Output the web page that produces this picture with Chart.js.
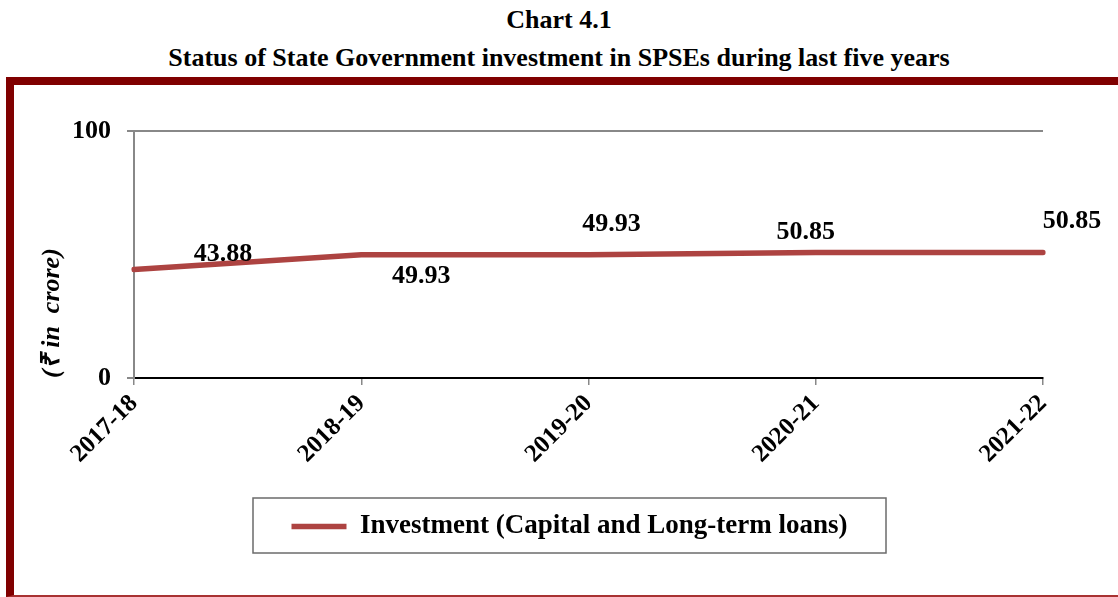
<!DOCTYPE html>
<html>
<head>
<meta charset="utf-8">
<script src="https://cdn.jsdelivr.net/npm/chart.js@4.4.0/dist/chart.umd.min.js"></script>
<style>
  html, body { margin: 0; padding: 0; background: #fff; overflow: hidden; }
  body { width: 1118px; height: 597px; position: relative; font-family: "Liberation Serif", "Times New Roman", serif; }
  .title { position: absolute; left: 0; width: 1118px; text-align: center; font-weight: bold; font-size: 26px; line-height: 30px; color: #000; }
  #t1 { top: 5px; }
  #t2 { top: 43px; }
  #frame { position: absolute; left: 6px; top: 77px; width: 1200px; height: 520px; box-sizing: border-box;
           border-left: 8px solid #800000; border-top: 8px solid #800000; border-bottom: 2px solid #a83232; }
  #wrap { position: absolute; left: 14px; top: 85px; width: 1104px; height: 510px; }
</style>
</head>
<body>
<div class="title" id="t1">Chart 4.1</div>
<div class="title" id="t2">Status of State Government investment in SPSEs during last five years</div>
<div id="frame"></div>
<div id="wrap"><canvas id="investChart" width="1104" height="510"></canvas></div>
<script>
const years = ['2017-18', '2018-19', '2019-20', '2020-21', '2021-22'];
const investment = [43.88, 49.93, 49.93, 50.85, 50.85];
const yTicks = [0, 100];
const seriesLabel = 'Investment (Capital and Long-term loans)';
const axisTitle = '(\u20B9 in  crore)';

// where each value label sits relative to its point (px)
const labelShift = [[89, -15], [60, 22], [23, -30], [-10, -20], [29, -31]];

const serif = '"Liberation Serif", "Times New Roman", serif';
const lineColor = '#ad4341';

const valueLabels = {
  id: 'valueLabels',
  afterDatasetsDraw(chart) {
    const ctx = chart.ctx;
    const meta = chart.getDatasetMeta(0);
    ctx.save();
    ctx.font = 'bold 26px ' + serif;
    ctx.fillStyle = '#000';
    ctx.textAlign = 'center';
    ctx.textBaseline = 'middle';
    meta.data.forEach((pt, i) => {
      const s = labelShift[i];
      ctx.fillText(investment[i].toFixed(2), pt.x + s[0], pt.y + s[1]);
    });
    ctx.restore();
  }
};

const legendBox = {
  id: 'legendBox',
  afterLayout(chart) {
    const lg = chart.legend;
    lg.left = 239;
    lg.right = 872;
  },
  afterDraw(chart) {
    const lg = chart.legend;
    const ctx = chart.ctx;
    ctx.save();
    ctx.strokeStyle = '#6b6b6b';
    ctx.lineWidth = 1.5;
    ctx.strokeRect(lg.left, lg.top, lg.right - lg.left, 55);
    ctx.restore();
  }
};

new Chart(document.getElementById('investChart'), {
  type: 'line',
  data: {
    labels: years,
    datasets: [{
      label: seriesLabel,
      data: investment,
      borderColor: lineColor,
      backgroundColor: lineColor,
      borderWidth: 5.5,
      borderCapStyle: 'round',
      tension: 0,
      pointRadius: 0,
      fill: false
    }]
  },
  options: {
    responsive: false,
    animation: false,
    devicePixelRatio: 1,
    layout: { padding: { top: 46, left: 0, right: 75, bottom: 45 } },
    plugins: {
      tooltip: { enabled: false },
      legend: {
        position: 'bottom',
        labels: {
          usePointStyle: true,
          pointStyle: 'line',
          pointStyleWidth: 55,
          padding: 15,
          color: '#000',
          font: { family: serif, size: 27, weight: 'bold' }
        }
      }
    },
    scales: {
      x: {
        offset: false,
        grid: { drawOnChartArea: false, color: '#888', lineWidth: 1.5, tickLength: 7 },
        border: { color: '#000', width: 2 },
        ticks: {
          maxRotation: 45, minRotation: 45, padding: 4,
          color: '#000',
          font: { family: serif, size: 25, weight: 'bold' }
        },
        afterFit(scale) { scale.height = 120; }
      },
      y: {
        min: 0,
        max: 100,
        afterBuildTicks(scale) { scale.ticks = yTicks.map(v => ({ value: v })); },
        grid: { color: '#888', lineWidth: 2, tickLength: 7 },
        border: { color: '#888', width: 2 },
        ticks: {
          padding: 16,
          color: '#000',
          font: { family: serif, size: 26, weight: 'bold' }
        },
        title: {
          display: true,
          text: axisTitle,
          align: 'start',
          color: '#000',
          padding: { top: 23, bottom: 0 },
          font: { family: serif, size: 26, weight: 'bold', style: 'italic' }
        },
        afterFit(scale) { scale.width = 120; }
      }
    }
  },
  plugins: [valueLabels, legendBox]
});
</script>
</body>
</html>
